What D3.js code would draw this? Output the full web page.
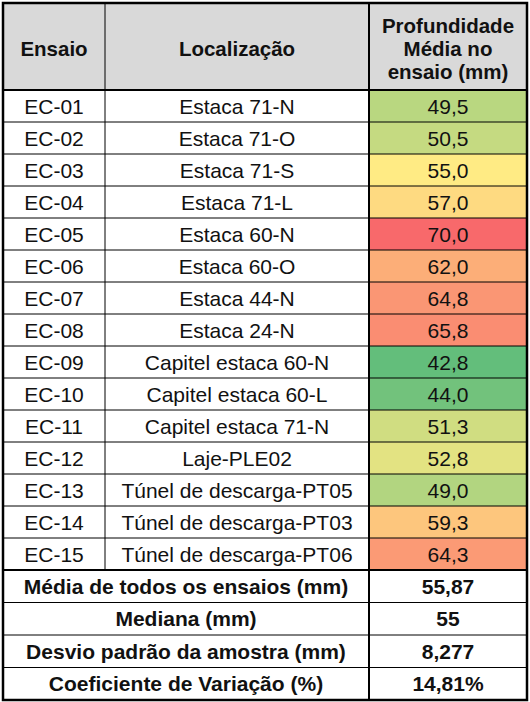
<!DOCTYPE html><html><head><meta charset="utf-8">
<script src="https://cdn.jsdelivr.net/npm/d3@7"></script>
<style>body{margin:0;background:#fff}</style></head><body><svg id="c" width="530" height="702"></svg>
<script>
const ensaios=["EC-01","EC-02","EC-03","EC-04","EC-05","EC-06","EC-07","EC-08","EC-09","EC-10","EC-11","EC-12","EC-13","EC-14","EC-15"];
const locais=["Estaca 71-N","Estaca 71-O","Estaca 71-S","Estaca 71-L","Estaca 60-N","Estaca 60-O","Estaca 44-N","Estaca 24-N","Capitel estaca 60-N","Capitel estaca 60-L","Capitel estaca 71-N","Laje-PLE02","Túnel de descarga-PT05","Túnel de descarga-PT03","Túnel de descarga-PT06"];
const valores=[49.5,50.5,55.0,57.0,70.0,62.0,64.8,65.8,42.8,44.0,51.3,52.8,49.0,59.3,64.3];
const resumoLabels=["Média de todos os ensaios (mm)","Mediana (mm)","Desvio padrão da amostra (mm)","Coeficiente de Variação (%)"];
const resumoValores=["55,87","55","8,277","14,81%"];
const headers=["Ensaio","Localização",["Profundidade","Média no","ensaio (mm)"]];

const svg=d3.select("#c");
const x0=3,x1=105,x2=369,x3=527, yTop=3,yHead=90,yData=570,yBot=700;
const rowY=d3.scaleBand().domain(d3.range(15)).range([yHead,yData]);
const sumY=d3.scaleBand().domain(d3.range(4)).range([yData,yBot]);
const color=d3.scaleLinear().domain([d3.min(valores),d3.median(valores),d3.max(valores)]).range(["#63BE7B","#FFEB84","#F8696B"]);
const font="Liberation Sans, Arial, sans-serif";
svg.append("rect").attr("x",x0).attr("y",yTop).attr("width",x3-x0).attr("height",yHead-yTop).attr("fill","#D9D9D9");
svg.selectAll(".cell").data(valores).join("rect").attr("x",x2).attr("y",(d,i)=>rowY(i)).attr("width",x3-x2).attr("height",rowY.bandwidth()).attr("fill",d=>color(d));
const T=(x,y,t,bold,size)=>svg.append("text").attr("x",x).attr("y",y).attr("text-anchor","middle").attr("dominant-baseline","central").attr("font-family",font).attr("font-size",size||21).attr("font-weight",bold?"bold":"normal").attr("fill","#111").text(t);
T((x0+x1)/2,48,headers[0],true,20.5);
T((x1+x2)/2,48,headers[1],true,20.5);
headers[2].forEach((h,i)=>T((x2+x3)/2,25+i*23,h,true,20.5));
valores.forEach((v,i)=>{const cy=rowY(i)+rowY.bandwidth()/2;
 T((x0+x1)/2,cy,ensaios[i]);T((x1+x2)/2,cy,locais[i]);T((x2+x3)/2,cy,v.toFixed(1).replace(".",","));});
resumoLabels.forEach((l,i)=>{const cy=sumY(i)+sumY.bandwidth()/2;T((x0+x2)/2,cy,l,true);T((x2+x3)/2,cy,resumoValores[i],true);});
const L=(a,b,c,d,w)=>svg.append("line").attr("x1",a).attr("y1",b).attr("x2",c).attr("y2",d).attr("stroke","#000").attr("stroke-width",w);
d3.range(1,15).forEach(i=>L(x0,rowY(i),x3,rowY(i),1));
d3.range(1,4).forEach(i=>L(x0,sumY(i),x3,sumY(i),1));
L(x1,yTop,x1,yData,1);
L(x2,yTop,x2,yBot,2);
L(x0,yHead,x3,yHead,2);L(x0,yData,x3,yData,2);
svg.append("rect").attr("x",x0).attr("y",yTop).attr("width",x3-x0).attr("height",yBot-yTop).attr("fill","none").attr("stroke","#000").attr("stroke-width",2.5);
</script></body></html>
